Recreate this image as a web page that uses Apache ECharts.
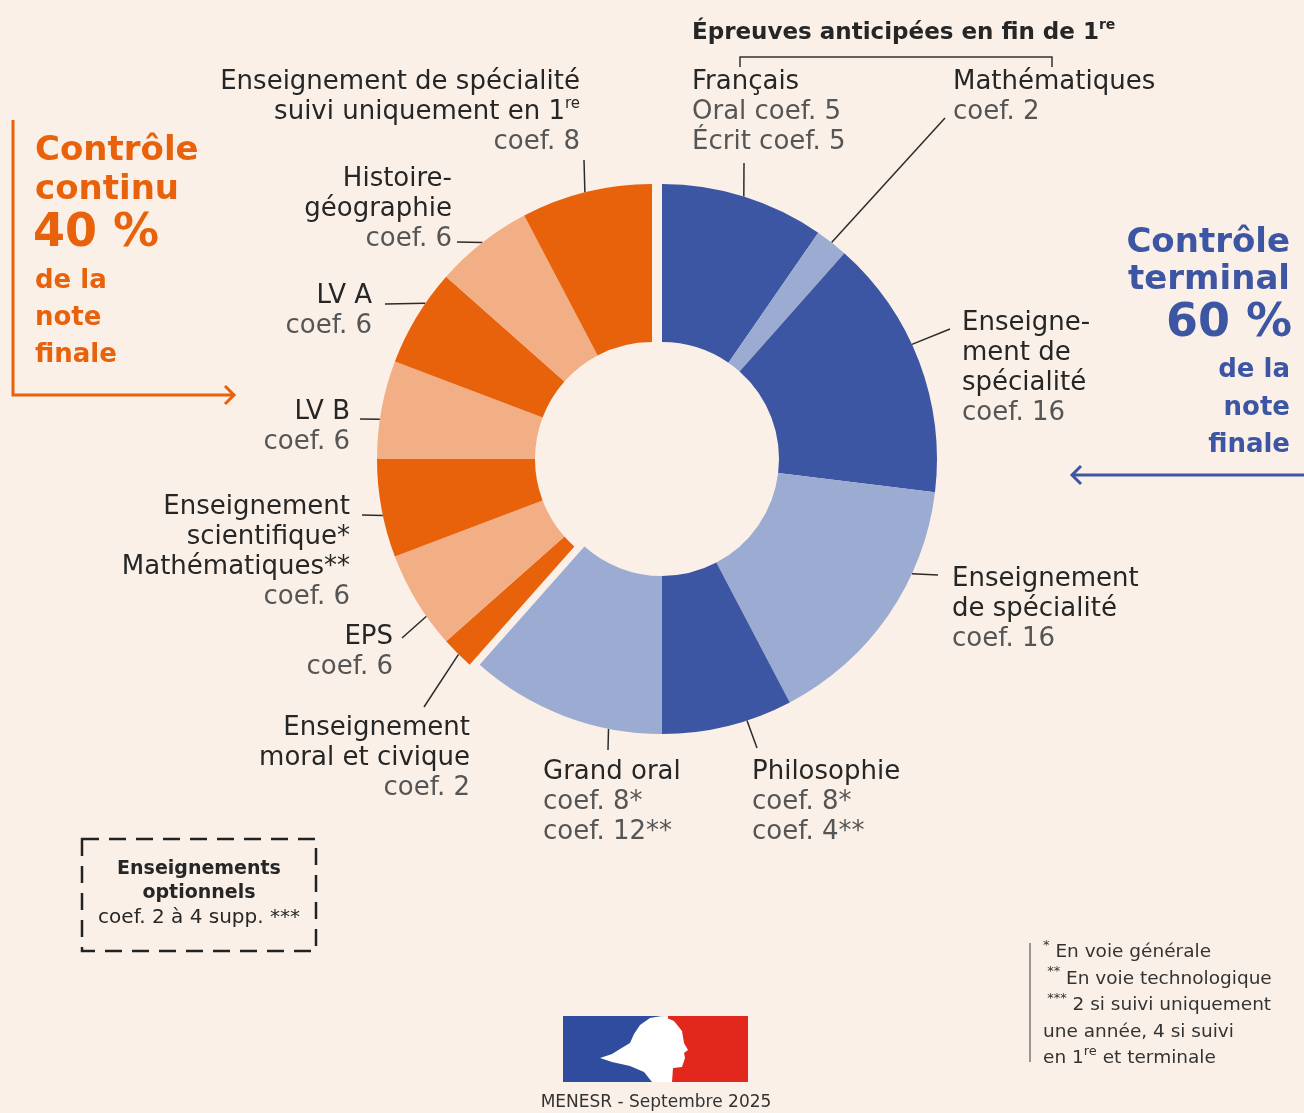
<!DOCTYPE html>
<html>
<head>
<meta charset="utf-8">
<title>Baccalauréat - coefficients</title>
<script src="https://cdn.jsdelivr.net/npm/echarts@6/dist/echarts.min.js"></script>
<style>
    html, body { margin: 0; padding: 0; background: #FBF0E8; }
    #chart { width: 1304px; height: 1113px; }
</style>
</head>
<body>
<div id="chart"></div>
<script>
// Contrôle terminal (60 %), sens horaire depuis midi
var terminalNames = ['Français', 'Mathématiques', 'Enseignement de spécialité (1)', 'Enseignement de spécialité (2)', 'Philosophie', 'Grand oral'];
var terminalCoefs = [10, 2, 16, 16, 8, 12];
var terminalLabels = [
    '{n|Français}\n{c|Oral coef. 5}\n{c|Écrit coef. 5}',
    '{n|Mathématiques}\n{c|coef. 2}',
    '{n|Enseigne-}\n{n|ment de}\n{n|spécialité}\n{c|coef. 16}',
    '{n|Enseignement}\n{n|de spécialité}\n{c|coef. 16}',
    '{n|Philosophie}\n{c|coef. 8*}\n{c|coef. 4**}',
    '{n|Grand oral}\n{c|coef. 8*}\n{c|coef. 12**}'
];

// Contrôle continu (40 %), sens horaire après le grand oral
var continuNames = ['Enseignement moral et civique', 'EPS', 'Enseignement scientifique', 'LV B', 'LV A', 'Histoire-géographie', 'Spécialité suivie en 1re'];
var continuCoefs = [2, 6, 6, 6, 6, 6, 8];
var continuLabels = [
    '{n|Enseignement}\n{n|moral et civique}\n{c|coef. 2}',
    '{n|EPS}\n{c|coef. 6}',
    '{n|Enseignement}\n{n|scientifique*}\n{n|Mathématiques**}\n{c|coef. 6}',
    '{n|LV B}\n{c|coef. 6}',
    '{n|LV A}\n{c|coef. 6}',
    '{n|Histoire-}\n{n|géographie}\n{c|coef. 6}',
    '{n|Enseignement de spécialité}\n{n|suivi uniquement en 1}{s|re}\n{c|coef. 8}'
];

var FONT = 'DejaVu Sans';
var DARK = '#262626';
var ORANGE = '#E8620C';
var BLUE = '#3D56A3';
var blueColors = ['#3D56A3', '#9BABD2'];
var orangeColors = ['#E8620C', '#F2AF85'];
var R_IN = 117, R_OUT = 275;
var blueCenter = [662, 459];
var orangeCenter = [652, 459];

// position des étiquettes (x, y, alignement, départ du trait, position du trait sur la part)
var terminalPlace = [
    {x: 692, y: 67, align: 'left', from: [744, 163], t: 0.5},
    {x: 953, y: 67, align: 'left', from: [945, 118], t: 0.5},
    {x: 962, y: 308, align: 'left', from: [950, 329], t: 0.43},
    {x: 952, y: 564, align: 'left', from: [938, 575], t: 0.32},
    {x: 752, y: 757, align: 'left', from: [757, 748], t: 0.35},
    {x: 543, y: 757, align: 'left', from: [608, 750], t: 0.27}
];
var continuPlace = [
    {x: 470, y: 713, align: 'right', from: [424, 707], t: 0.46},
    {x: 393, y: 622, align: 'right', from: [402, 638], t: 0.32},
    {x: 350, y: 492, align: 'right', from: [362, 515], t: 0.43},
    {x: 350, y: 397, align: 'right', from: [360, 419], t: 0.4},
    {x: 372, y: 281, align: 'right', from: [385, 304], t: 0.66},
    {x: 452, y: 164, align: 'right', from: [457, 242], t: 0.5},
    {x: 580, y: 67, align: 'right', from: [584, 160], t: 0.49}
];

function sum(arr) {
    return arr.reduce(function (a, b) { return a + b; }, 0);
}

var TOTAL = sum(terminalCoefs) + sum(continuCoefs);

var richStyles = {
    n: {fontFamily: FONT, fontSize: 26, lineHeight: 30, color: DARK},
    c: {fontFamily: FONT, fontSize: 26, lineHeight: 30, color: '#555555'},
    s: {fontFamily: FONT, fontSize: 15, lineHeight: 20, color: DARK, verticalAlign: 'top'}
};

/**
 * Construit une série en anneau : les parts visibles + une part vide pour l'autre moitié
 */
function buildSeries(values, names, labels, places, colors, fillerFirst, center) {
    var fillerValue = TOTAL - sum(values);
    var data = values.map(function (v, i) {
        return {
            value: v,
            name: names[i],
            itemStyle: {color: colors[i % 2]},
            label: {formatter: labels[i]}
        };
    });
    var filler = {
        value: fillerValue,
        name: 'vide',
        itemStyle: {color: 'rgba(0,0,0,0)'},
        label: {show: false},
        labelLine: {show: false},
        emphasis: {disabled: true}
    };
    if (fillerFirst) {
        data.unshift(filler);
    } else {
        data.push(filler);
    }
    return {
        type: 'pie',
        center: center,
        radius: [R_IN, R_OUT],
        startAngle: 90,
        clockwise: true,
        avoidLabelOverlap: false,
        silent: true,
        animation: false,
        itemStyle: {borderWidth: 0},
        label: {
            show: true,
            position: 'outside',
            width: 420,
            overflow: 'none',
            rich: richStyles
        },
        labelLine: {
            show: true,
            lineStyle: {color: '#2b2b2b', width: 1.5}
        },
        labelLayout: function (params) {
            var k = fillerFirst ? params.dataIndex - 1 : params.dataIndex;
            var p = places[k];
            if (!p) {
                return {};
            }
            var before = (fillerFirst ? fillerValue : 0) + sum(values.slice(0, k));
            var a = (before + p.t * values[k]) / TOTAL * 2 * Math.PI;
            var end = [center[0] + R_OUT * Math.sin(a), center[1] - R_OUT * Math.cos(a)];
            return {
                x: p.x,
                y: p.y,
                align: p.align,
                verticalAlign: 'top',
                labelLinePoints: [p.from, end]
            };
        },
        data: data
    };
}

function txt(x, y, text, font, color, align) {
    return {
        type: 'text',
        x: x,
        y: y,
        silent: true,
        style: {text: text, font: font, fill: color, align: align || 'left', verticalAlign: 'middle'}
    };
}

function line(points, color, width, dash) {
    return {
        type: 'polyline',
        silent: true,
        shape: {points: points},
        style: {stroke: color, lineWidth: width, fill: null, lineDash: dash || null}
    };
}

var graphics = [
    // contrôle continu
    txt(35, 151, 'Contrôle', 'bold 34px ' + FONT, ORANGE),
    txt(35, 190, 'continu', 'bold 34px ' + FONT, ORANGE),
    txt(33, 234, '40 %', 'bold 46px ' + FONT, ORANGE),
    txt(35, 281, 'de la', 'bold 26px ' + FONT, ORANGE),
    txt(35, 318, 'note', 'bold 26px ' + FONT, ORANGE),
    txt(35, 355, 'finale', 'bold 26px ' + FONT, ORANGE),
    line([[13, 120], [13, 395], [234, 395]], ORANGE, 3),
    line([[225, 386], [234, 395], [225, 404]], ORANGE, 3),
    // contrôle terminal
    txt(1290, 243, 'Contrôle', 'bold 34px ' + FONT, BLUE, 'right'),
    txt(1290, 280, 'terminal', 'bold 34px ' + FONT, BLUE, 'right'),
    txt(1292, 324, '60 %', 'bold 46px ' + FONT, BLUE, 'right'),
    txt(1290, 370, 'de la', 'bold 26px ' + FONT, BLUE, 'right'),
    txt(1290, 408, 'note', 'bold 26px ' + FONT, BLUE, 'right'),
    txt(1290, 445, 'finale', 'bold 26px ' + FONT, BLUE, 'right'),
    line([[1304, 475], [1072, 475]], BLUE, 3),
    line([[1081, 466], [1072, 475], [1081, 484]], BLUE, 3),
    // épreuves anticipées
    {
        type: 'text', x: 692, y: 33, silent: true,
        style: {
            text: '{h|Épreuves anticipées en fin de 1}{hs|re}',
            align: 'left', verticalAlign: 'middle',
            rich: {
                h: {fontFamily: FONT, fontWeight: 'bold', fontSize: 23, lineHeight: 30, fill: DARK},
                hs: {fontFamily: FONT, fontWeight: 'bold', fontSize: 14, lineHeight: 20, fill: DARK, verticalAlign: 'top'}
            }
        }
    },
    line([[740, 67], [740, 57], [1052, 57], [1052, 67]], '#333', 1.5),
    // enseignements optionnels
    {
        type: 'rect', silent: true,
        shape: {x: 82, y: 839, width: 234, height: 112},
        style: {fill: null, stroke: '#222', lineWidth: 2.5, lineDash: [17, 10]}
    },
    txt(199, 869, 'Enseignements', 'bold 19px ' + FONT, DARK, 'center'),
    txt(199, 893, 'optionnels', 'bold 19px ' + FONT, DARK, 'center'),
    txt(199, 918, 'coef. 2 à 4 supp. ***', '20px ' + FONT, DARK, 'center'),
    // notes
    line([[1030, 943], [1030, 1062]], '#777', 1.5),
    {
        type: 'text', x: 1043, y: 939, silent: true,
        style: {
            text: '{s|*}{f| En voie générale}\n{s| **}{f| En voie technologique}\n{s| ***}{f| 2 si suivi uniquement}\n{f|une année, 4 si suivi}\n{f|en 1}{s|re}{f| et terminale}',
            align: 'left', verticalAlign: 'top',
            rich: {
                f: {fontFamily: FONT, fontSize: 18.5, lineHeight: 26.5, fill: '#333'},
                s: {fontFamily: FONT, fontSize: 13, lineHeight: 20, fill: '#333', verticalAlign: 'top'}
            }
        }
    },
    // logo
    {type: 'rect', silent: true, shape: {x: 563, y: 1016, width: 100, height: 66}, style: {fill: '#2F4C9E'}},
    {type: 'rect', silent: true, shape: {x: 668, y: 1016, width: 80, height: 66}, style: {fill: '#E2271D'}},
    {
        type: 'polygon', silent: true,
        shape: {
            points: [[650, 1018], [662, 1016], [674, 1021], [682, 1031], [684, 1043], [688, 1050], [684, 1053],
                [685, 1058], [682, 1067], [673, 1068], [672, 1082], [652, 1082], [644, 1072], [630, 1066],
                [612, 1062], [600, 1058], [612, 1054], [620, 1049], [630, 1043], [634, 1034], [640, 1025]]
        },
        style: {fill: '#FFFFFF'}
    },
    txt(656, 1103, 'MENESR - Septembre 2025', '17px ' + FONT, '#333', 'center')
];

var myChart = echarts.init(document.getElementById('chart'));
var option = {
    backgroundColor: '#FBF0E8',
    animation: false,
    textStyle: {fontFamily: FONT},
    graphic: graphics,
    series: [
        buildSeries(terminalCoefs, terminalNames, terminalLabels, terminalPlace, blueColors, false, blueCenter),
        buildSeries(continuCoefs, continuNames, continuLabels, continuPlace, orangeColors, true, orangeCenter)
    ]
};
myChart.setOption(option, true);
</script>
</body>
</html>
